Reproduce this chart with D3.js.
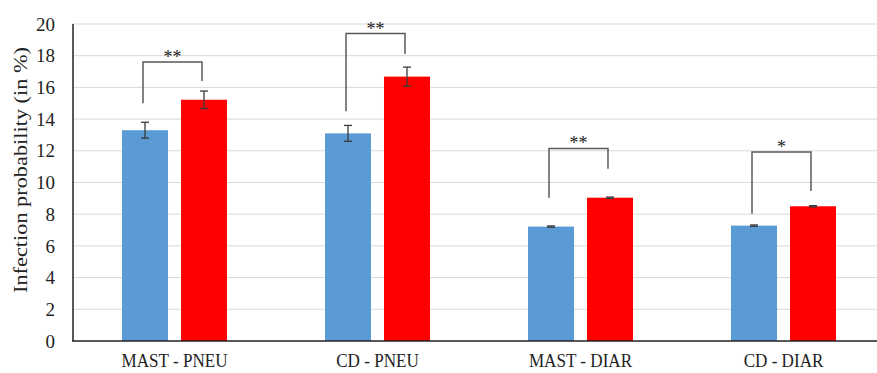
<!DOCTYPE html>
<html>
<head>
<meta charset="utf-8">
<script src="https://cdn.jsdelivr.net/npm/d3@7"></script>
<style>
  body { margin: 0; background: #fff; }
  text { font-family: "Liberation Serif", "Times New Roman", serif; }
</style>
</head>
<body>
<svg id="chart" width="877" height="373"></svg>
<script>
var categories = ["MAST - PNEU", "CD - PNEU", "MAST - DIAR", "CD - DIAR"];
var blueValues = [13.3, 13.1, 7.22, 7.28];
var blueErr = [0.5, 0.5, 0.04, 0.04];
var redValues = [15.22, 16.68, 9.04, 8.5];
var redErr = [0.55, 0.6, 0.04, 0.04];
// significance brackets: top of bracket, bottom of left leg, bottom of right leg
var bracketTop = [17.6, 19.4, 12.15, 11.92];
var bracketLeft = [15.0, 14.5, 9.04, 8.03];
var bracketRight = [16.4, 18.1, 10.87, 9.46];
var stars = ["**", "**", "**", "*"];
var yTicks = [0, 2, 4, 6, 8, 10, 12, 14, 16, 18, 20];

var svg = d3.select('#chart');

var x = d3.scaleBand().domain(categories).range([73, 885]).paddingInner(0).paddingOuter(0);
var xs = d3.scaleBand().domain(["blue", "red"]).range([0, 105]).paddingInner(0.22).paddingOuter(0);
var y = d3.scaleLinear().domain([0, 20]).range([341, 24]);

function groupStart(c) { return x(c) + (x.bandwidth() - 105) / 2; }

// gridlines
svg.append("g").selectAll("line").data(yTicks.filter(function(t){ return t > 0; }))
    .enter().append("line")
    .attr("x1", 73).attr("x2", 877)
    .attr("y1", function(d){ return y(d); }).attr("y2", function(d){ return y(d); })
    .attr("stroke", "#d9d9d9").attr("stroke-width", 1);

// y axis tick labels
svg.append("g").selectAll("text").data(yTicks).enter().append("text")
    .attr("x", 55).attr("y", function(d){ return y(d); })
    .attr("dy", "0.35em").attr("text-anchor", "end")
    .attr("font-size", 19).attr("fill", "#222")
    .text(function(d){ return d; });

svg.append("text")
    .attr("transform", "translate(20,170) rotate(-90)")
    .attr("text-anchor", "middle").attr("dy", "0.35em")
    .attr("font-size", 19).attr("fill", "#222")
    .attr("textLength", 246).attr("lengthAdjust", "spacingAndGlyphs")
    .text("Infection probability (in %)");

// bars
var bars = [];
categories.forEach(function(c, i) {
    bars.push({cat: c, s: "blue", v: blueValues[i], e: blueErr[i]});
    bars.push({cat: c, s: "red", v: redValues[i], e: redErr[i]});
});
var color = {blue: "#5b9bd5", red: "#ff0000"};

svg.append("g").selectAll("rect").data(bars).enter().append("rect")
    .attr("x", function(d){ return groupStart(d.cat) + xs(d.s); })
    .attr("width", xs.bandwidth())
    .attr("y", function(d){ return y(d.v); })
    .attr("height", function(d){ return y(0) - y(d.v); })
    .attr("fill", function(d){ return color[d.s]; });

// error bars
var eb = svg.append("g").attr("stroke", "#3a3a3a").attr("stroke-width", 1.3);
bars.forEach(function(d) {
    var cx = groupStart(d.cat) + xs(d.s) + xs.bandwidth() / 2;
    eb.append("line").attr("x1", cx).attr("x2", cx).attr("y1", y(d.v + d.e)).attr("y2", y(d.v - d.e));
    eb.append("line").attr("x1", cx - 4).attr("x2", cx + 4).attr("y1", y(d.v + d.e)).attr("y2", y(d.v + d.e));
    eb.append("line").attr("x1", cx - 4).attr("x2", cx + 4).attr("y1", y(d.v - d.e)).attr("y2", y(d.v - d.e));
});

// significance brackets
var br = svg.append("g");
categories.forEach(function(c, i) {
    var lx = groupStart(c) + xs("blue") + xs.bandwidth() / 2 - 2,
        rx = groupStart(c) + xs("red") + xs.bandwidth() / 2 - 2;
    br.append("path")
        .attr("d", "M" + lx + "," + y(bracketLeft[i]) + "V" + y(bracketTop[i]) + "H" + rx + "V" + y(bracketRight[i]))
        .attr("fill", "none").attr("stroke", "#5a5a5a").attr("stroke-width", 1.5);
    br.append("text")
        .attr("x", (lx + rx) / 2).attr("y", y(bracketTop[i]) + 1)
        .attr("text-anchor", "middle").attr("font-size", 18).attr("fill", "#222")
        .text(stars[i]);
});

// axes lines
svg.append("line").attr("x1", 73).attr("x2", 73).attr("y1", y(20)).attr("y2", y(0))
    .attr("stroke", "#222").attr("stroke-width", 1.5);
svg.append("line").attr("x1", 72).attr("x2", 877).attr("y1", y(0)).attr("y2", y(0))
    .attr("stroke", "#222").attr("stroke-width", 1.5);

// x labels (glyphs look horizontally condensed in the source)
svg.append("g").selectAll("text").data(categories).enter().append("text")
    .attr("transform", function(d){ return "translate(" + (x(d) + x.bandwidth() / 2) + ",367) scale(0.9,1)"; })
    .attr("text-anchor", "middle").attr("font-size", 19).attr("fill", "#222")
    .text(function(d){ return d; });
</script>
</body>
</html>
